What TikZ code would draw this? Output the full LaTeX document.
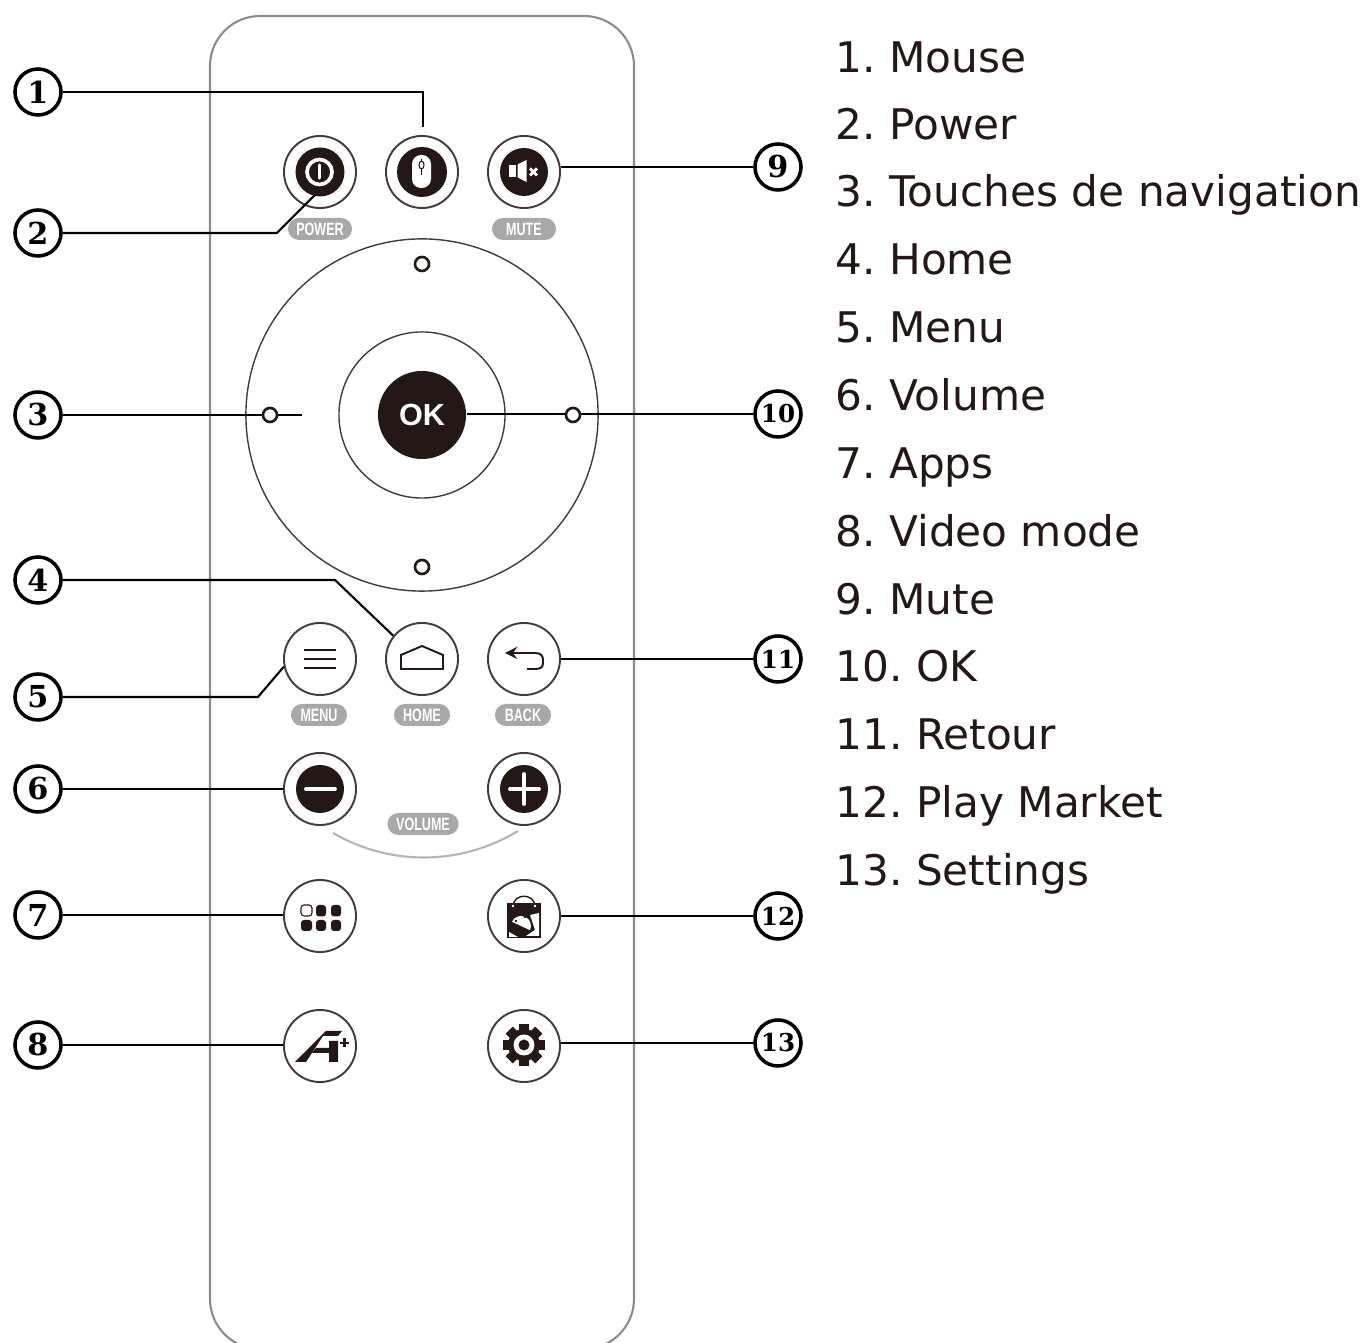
\documentclass[tikz,border=0pt]{standalone}
\usepackage{fontspec}
\usetikzlibrary{shapes.misc}
\setmainfont{DejaVu Sans}
\newfontfamily\numfont{DejaVu Serif}
\newfontfamily\keyfont{Liberation Sans}
\definecolor{inkblack}{HTML}{231815}
\definecolor{shellgray}{HTML}{8C8C8C}
\definecolor{pillgray}{HTML}{A8A8A8}
\definecolor{arcgray}{HTML}{B4B4B4}
\newcommand{\pilltext}[1]{\scalebox{0.7}[1]{#1}}
\frenchspacing

\begin{document}
\begin{tikzpicture}[
    shell/.style={line width=0.6pt,shellgray},
    button/.style={circle,draw=inkblack!85,line width=0.55pt,minimum size=0.72cm,inner sep=0pt},
    ringline/.style={circle,draw=inkblack!85,line width=0.4pt,inner sep=0pt},
    tinyring/.style={circle,draw=inkblack,fill=white,line width=0.75pt,minimum size=0.14cm,inner sep=0pt},
    pill/.style={rounded rectangle,fill=pillgray,text=white,font=\keyfont\bfseries\fontsize{5.1pt}{5.5pt}\selectfont,minimum height=0.22cm,inner sep=0pt},
    callout/.style={circle,draw=black,line width=1pt,minimum size=0.46cm,inner sep=0pt,font=\numfont\bfseries\fontsize{8.6pt}{9pt}\selectfont},
    calloutsmall/.style={callout,font=\numfont\bfseries\fontsize{7pt}{8pt}\selectfont},
    leader/.style={line width=0.6pt,black},
    iconline/.style={line width=0.55pt,inkblack},
    listitem/.style={anchor=base west,inner sep=0pt,font=\fontsize{12pt}{14pt}\selectfont,text=inkblack}]

  \def\f{*0.01}

  \clip (0,0) rectangle (1371\f,-1343\f);

  \draw[shell,rounded corners=0.5cm]
    (210\f,-16\f) rectangle (634\f,-1349\f);

  % direction pad
  \node[ringline,minimum size=3.52cm] (dpad) at (422\f,-415\f) {};
  \node[ringline,minimum size=1.66cm] (dring) at (422\f,-415\f) {};
  \node[circle,fill=inkblack,minimum size=0.88cm,inner sep=0pt,text=white,font=\keyfont\bfseries\fontsize{8.7pt}{9pt}\selectfont] (ok) at (422\f,-415\f) {OK};

  % buttons
  \node[button] (power) at (320\f,-172\f) {};
  \node[button] (mouse) at (422\f,-172\f) {};
  \node[button] (mute) at (524\f,-172\f) {};
  \node[button] (menu) at (320\f,-659\f) {};
  \node[button] (home) at (422\f,-659\f) {};
  \node[button] (back) at (524\f,-659\f) {};
  \node[button] (minus) at (320\f,-789\f) {};
  \node[button] (plus) at (524\f,-789\f) {};
  \node[button] (apps) at (320\f,-916\f) {};
  \node[button] (market) at (524\f,-916\f) {};
  \node[button] (vmode) at (320\f,-1046\f) {};
  \node[button] (settings) at (524\f,-1046\f) {};

  % key labels
  \node[pill,minimum width=0.64cm] (powerlabel) at (320\f,-229\f) {\pilltext{POWER}};
  \node[pill,minimum width=0.64cm] (mutelabel) at (524\f,-229\f) {\pilltext{MUTE}};
  \node[pill,minimum width=0.56cm] (menulabel) at (319\f,-715\f) {\pilltext{MENU}};
  \node[pill,minimum width=0.56cm] (homelabel) at (422\f,-715\f) {\pilltext{HOME}};
  \node[pill,minimum width=0.56cm] (backlabel) at (523\f,-715\f) {\pilltext{BACK}};
  \node[pill,minimum width=0.71cm] (volumelabel) at (423\f,-824\f) {\pilltext{VOLUME}};

  \draw[line width=0.6pt,arcgray]
    (333\f,-833\f) .. controls (390\f,-866\f) and (460\f,-866\f) .. (518\f,-831\f);

  % power icon
  \fill[inkblack] (320\f,-172\f) circle [radius=24.5\f];
  \draw[white,line width=1.05pt] (319.5\f,-172\f) circle [radius=12.5\f];
  \draw[white,line width=0.9pt,line cap=round] (319.5\f,-165\f) -- (319.5\f,-178\f);

  % mouse icon
  \fill[inkblack] (422\f,-172\f) circle [radius=25\f];
  \fill[white,rounded corners=0.09cm] (412\f,-155\f) rectangle (431\f,-188\f);
  \draw[inkblack,line width=0.3pt] (421.5\f,-159\f) -- (421.5\f,-175\f);
  \draw[inkblack,line width=0.3pt,fill=white] (421.5\f,-165\f) ellipse [x radius=2.5\f,y radius=4\f];

  % mute icon
  \fill[inkblack] (524\f,-172\f) circle [radius=24\f];
  \fill[white] (509\f,-165\f) rectangle (516\f,-177\f);
  \fill[white] (517.5\f,-164.5\f) -- (526.5\f,-160\f) -- (526.5\f,-182\f) -- (517.5\f,-177.5\f) -- cycle;
  \draw[white,line width=0.8pt]
    (530\f,-168.5\f) -- (537\f,-175.5\f)
    (537\f,-168.5\f) -- (530\f,-175.5\f);

  % menu icon
  \draw[iconline]
    (304\f,-650\f) -- (336\f,-650\f)
    (304\f,-659\f) -- (336\f,-659\f)
    (304\f,-668\f) -- (336\f,-668\f);

  % home icon
  \draw[iconline]
    (401\f,-669\f) -- (443\f,-669\f) -- (443\f,-655\f) -- (422\f,-646\f) -- (401\f,-655\f) -- cycle;

  % back icon
  \draw[iconline,<-,>=stealth]
    (505\f,-653\f) -- (535\f,-653\f) .. controls (541\f,-653\f) and (543\f,-656\f) .. (543\f,-660\f)
    -- (543\f,-663\f) .. controls (543\f,-667\f) and (541\f,-669\f) .. (535\f,-669\f) -- (527\f,-669\f);

  % volume icons
  \fill[inkblack] (320\f,-789\f) circle [radius=24\f];
  \draw[white,line width=1.1pt,line cap=round] (306\f,-789\f) -- (335\f,-789\f);
  \fill[inkblack] (524\f,-789\f) circle [radius=24\f];
  \draw[white,line width=1.1pt,line cap=round]
    (510\f,-789\f) -- (539\f,-789\f)
    (524\f,-774\f) -- (524\f,-804\f);

  % apps icon
  \draw[inkblack,line width=0.3pt,rounded corners=0.03cm] (301\f,-905\f) rectangle (312\f,-916\f);
  \fill[inkblack,rounded corners=0.03cm] (316\f,-905\f) rectangle (326\f,-916.5\f);
  \fill[inkblack,rounded corners=0.03cm] (331\f,-905\f) rectangle (341\f,-916.5\f);
  \fill[inkblack,rounded corners=0.03cm] (301\f,-920\f) rectangle (312\f,-931\f);
  \fill[inkblack,rounded corners=0.03cm] (316\f,-920\f) rectangle (326\f,-931\f);
  \fill[inkblack,rounded corners=0.03cm] (331\f,-920\f) rectangle (341\f,-931\f);

  % market icon
  \fill[inkblack] (507\f,-903\f) rectangle (541\f,-938\f);
  \draw[inkblack,line width=0.4pt]
    (513\f,-906\f) .. controls (514\f,-893\f) and (534\f,-893\f) .. (535\f,-906\f);
  \fill[white] (513\f,-906\f) circle [radius=1.4\f] (535\f,-906\f) circle [radius=1.4\f];
  \fill[white,rotate around={-25:(521\f,-926\f)}]
    (511\f,-926\f) arc [start angle=180,end angle=0,radius=10\f] -- cycle;
  \fill[inkblack] (516\f,-921\f) circle [radius=1.3\f] (525\f,-917\f) circle [radius=1.3\f];
  \fill[white] (530\f,-915\f) -- (539\f,-913\f) -- (539\f,-936\f) -- (526\f,-936\f) -- (535\f,-930\f) -- cycle;
  \fill[white] (509\f,-932\f) -- (518\f,-937\f) -- (509\f,-937\f) -- cycle;

  % video mode icon
  \fill[inkblack]
    (326\f,-1031\f) -- (342\f,-1031\f) -- (338\f,-1036\f) -- (323\f,-1036\f) -- (306\f,-1062\f) -- (295\f,-1062\f) -- cycle;
  \fill[inkblack]
    (329\f,-1041\f) -- (338\f,-1041\f) -- (338\f,-1062\f) -- (329\f,-1062\f) -- (329\f,-1053\f)
    -- (312\f,-1053\f) -- (316\f,-1048\f) -- (329\f,-1048\f) -- cycle;
  \draw[inkblack,line width=0.7pt]
    (340\f,-1043\f) -- (349\f,-1043\f)
    (344.5\f,-1038.5\f) -- (344.5\f,-1047.5\f);

  % settings icon
  \fill[inkblack] (524\f,-1045\f) circle [radius=16\f];
  \fill[inkblack,rotate around={0:(524\f,-1045\f)}] (519\f,-1024\f) rectangle (529\f,-1066\f);
  \fill[inkblack,rotate around={45:(524\f,-1045\f)}] (519\f,-1024\f) rectangle (529\f,-1066\f);
  \fill[inkblack,rotate around={90:(524\f,-1045\f)}] (519\f,-1024\f) rectangle (529\f,-1066\f);
  \fill[inkblack,rotate around={135:(524\f,-1045\f)}] (519\f,-1024\f) rectangle (529\f,-1066\f);
  \fill[white] (524\f,-1045\f) circle [radius=10.5\f];
  \fill[inkblack] (524\f,-1045\f) circle [radius=5.5\f];

  % numbered callouts
  \node[callout] (n1) at (38\f,-92\f) {1};
  \node[callout] (n2) at (38\f,-233\f) {2};
  \node[callout] (n3) at (38\f,-415\f) {3};
  \node[callout] (n4) at (38\f,-580\f) {4};
  \node[callout] (n5) at (38\f,-697\f) {5};
  \node[callout] (n6) at (38\f,-789\f) {6};
  \node[callout] (n7) at (38\f,-915\f) {7};
  \node[callout] (n8) at (38\f,-1045\f) {8};
  \node[callout] (n9) at (778\f,-167\f) {9};
  \node[calloutsmall] (n10) at (778\f,-414\f) {10};
  \node[calloutsmall] (n11) at (778\f,-659\f) {11};
  \node[calloutsmall] (n12) at (778\f,-916\f) {12};
  \node[calloutsmall] (n13) at (778\f,-1043\f) {13};

  \coordinate (mouseend) at (423\f,-127\f);
  \coordinate (powerbend) at (277\f,-233\f);
  \coordinate (powerend) at (315\f,-195\f);
  \coordinate (padend) at (302\f,-415\f);
  \coordinate (homebend) at (335\f,-580\f);
  \coordinate (menubend) at (258\f,-697\f);

  \draw[leader] (n1.east) -- (mouseend |- n1.east) -- (mouseend);
  \draw[leader] (n2.east) -- (powerbend) -- (powerend);
  \draw[leader] (n3.east) -- (padend);
  \draw[leader] (n4.east) -- (homebend) -- (home.141);
  \draw[leader] (n5.east) -- (menubend) -- (menu.192);
  \draw[leader] (n6.east) -- (minus.west);
  \draw[leader] (n7.east) -- (apps.west |- n7.east);
  \draw[leader] (n8.east) -- (vmode.west |- n8.east);
  \draw[leader] (n9.west) -- (mute.east |- n9.west);
  \draw[leader] (n10.west) -- (ok.east |- n10.west);
  \draw[leader] (n11.west) -- (back.east);
  \draw[leader] (n12.west) -- (market.east);
  \draw[leader] (n13.west) -- (settings.east |- n13.west);

  % small rings sit on the leaders
  \node[tinyring] (padup) at (422\f,-264\f) {};
  \node[tinyring] (padleft) at (270\f,-415\f) {};
  \node[tinyring] (padright) at (573\f,-415\f) {};
  \node[tinyring] (paddown) at (422\f,-567\f) {};

  % list
  \node[listitem] (item1) at (835\f,-73\f) {1. Mouse};
  \node[listitem] (item2) at (835\f,-140\f) {2. Power};
  \node[listitem] (item3) at (835\f,-207\f) {3. Touches de navigation};
  \node[listitem] (item4) at (835\f,-275\f) {4. Home};
  \node[listitem] (item5) at (835\f,-343\f) {5. Menu};
  \node[listitem] (item6) at (835\f,-411\f) {6. Volume};
  \node[listitem] (item7) at (835\f,-479\f) {7. Apps};
  \node[listitem] (item8) at (835\f,-547\f) {8. Video mode};
  \node[listitem] (item9) at (835\f,-615\f) {9. Mute};
  \node[listitem] (item10) at (835\f,-682\f) {10. OK};
  \node[listitem] (item11) at (835\f,-750\f) {11. Retour};
  \node[listitem] (item12) at (835\f,-818\f) {12. Play Market};
  \node[listitem] (item13) at (835\f,-886\f) {13. Settings};
\end{tikzpicture}
\end{document}
